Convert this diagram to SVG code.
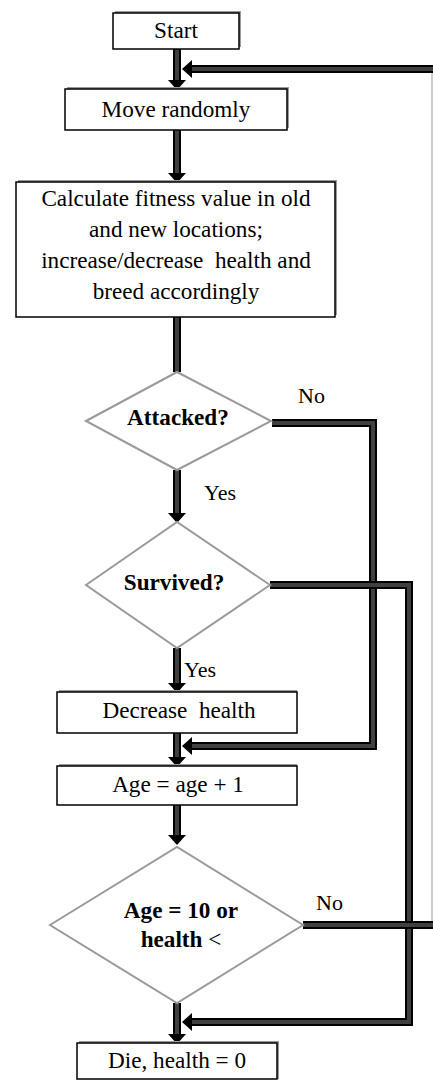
<svg xmlns="http://www.w3.org/2000/svg" width="433" height="1080" viewBox="0 0 433 1080">
<style>
.box{fill:#fff;stroke:#000;stroke-width:1.5}
.sh{fill:#9a9a9a}
.dia{fill:#fff;stroke:#9a9a9a;stroke-width:2}
.co{fill:none;stroke:#000;stroke-width:8}
.ci{fill:none;stroke:#404040;stroke-width:4}
.t{font-family:"Liberation Serif","Times New Roman",serif;font-size:23.2px;fill:#000;text-anchor:middle}
.b{font-weight:bold}
.l{font-family:"Liberation Serif","Times New Roman",serif;font-size:22px;fill:#000}
.thin{fill:none;stroke:#aaa;stroke-width:1.2}
</style>
<defs>
<marker id="ah" markerUnits="userSpaceOnUse" markerWidth="12" markerHeight="20" refX="0" refY="9" orient="auto" viewBox="0 0 12 18">
<path d="M0,0 L10,9 L0,18 z" fill="#000"/>
</marker>
</defs>
<rect width="433" height="1080" fill="#fff"/>
<g id="connectors">
<path class="thin" d="M432,69 V925"/>
<path class="co" d="M177,49 V80" marker-end="url(#ah)"/><path class="ci" d="M177,49 V80"/>
<path class="co" d="M433,69 H192" marker-end="url(#ah)"/><path class="ci" d="M433,69 H192"/>
<path class="co" d="M177,130 V173" marker-end="url(#ah)"/><path class="ci" d="M177,130 V173"/>
<path class="co" d="M177,317 V372"/><path class="ci" d="M177,317 V372"/>
<path class="co" d="M177,470 V513" marker-end="url(#ah)"/><path class="ci" d="M177,470 V513"/>
<path class="co" d="M272,423 H373 V746 H192" marker-end="url(#ah)"/><path class="ci" d="M272,423 H373 V746 H192"/>
<path class="co" d="M177,648 V683" marker-end="url(#ah)"/><path class="ci" d="M177,648 V683"/>
<path class="co" d="M270,585 H409 V1022 H192" marker-end="url(#ah)"/><path class="ci" d="M270,585 H409 V1022 H192"/>
<path class="co" d="M177,733 V757" marker-end="url(#ah)"/><path class="ci" d="M177,733 V757"/>
<path class="co" d="M177,805 V835" marker-end="url(#ah)"/><path class="ci" d="M177,805 V835"/>
<path class="co" d="M303,925 H433"/><path class="ci" d="M303,925 H433"/>
<path class="co" d="M177,1003 V1034" marker-end="url(#ah)"/><path class="ci" d="M177,1003 V1034"/>
</g>
<g id="start">
<rect class="sh" x="115" y="11" width="126" height="36"/>
<rect class="box" x="113" y="13" width="126" height="36"/>
<text class="t" x="176" y="38">Start</text>
</g>
<g id="move">
<rect class="sh" x="67" y="87" width="222" height="41"/>
<rect class="box" x="65" y="89" width="222" height="41"/>
<text class="t" x="176" y="117">Move randomly</text>
</g>
<g id="calc">
<rect class="sh" x="18" y="180" width="319" height="135"/>
<rect class="box" x="16" y="182" width="319" height="135"/>
<text class="t" x="176" y="206">Calculate fitness value in old</text>
<text class="t" x="176" y="237">and new locations;</text>
<text class="t" x="176" y="268" xml:space="preserve">increase/decrease  health and</text>
<text class="t" x="176" y="299">breed accordingly</text>
</g>
<g id="attacked">
<polygon class="dia" points="86,421 177,372 271,421 177,470"/>
<text class="t b" x="178" y="425" font-size="18">Attacked?</text>
</g>
<g id="survived">
<polygon class="dia" points="86,585 177,522 270,585 177,648"/>
<text class="t b" x="174" y="590" font-size="18">Survived?</text>
</g>
<g id="decrease">
<rect class="sh" x="59" y="690" width="238" height="41"/>
<rect class="box" x="57" y="692" width="240" height="41"/>
<text class="t" x="179" y="718" xml:space="preserve">Decrease  health</text>
</g>
<g id="age">
<rect class="sh" x="59" y="764" width="238" height="41"/>
<rect class="box" x="57" y="766" width="240" height="39"/>
<text class="t" x="178" y="792">Age = age + 1</text>
</g>
<g id="check">
<polygon class="dia" points="50,925 177,847 303,925 177,1003"/>
<text class="t b" x="181" y="918" font-size="22">Age = 10 or</text>
<text class="t" x="181" y="947" font-size="22"><tspan class="b">health</tspan> &lt;</text>
</g>
<g id="die">
<rect class="sh" x="79" y="1041" width="200" height="38"/>
<rect class="box" x="77" y="1043" width="200" height="36"/>
<text class="t" x="177" y="1068">Die, health = 0</text>
</g>
<g id="labels">
<text class="l" x="298" y="403">No</text>
<text class="l" x="204" y="500">Yes</text>
<text class="l" x="184" y="677">Yes</text>
<text class="l" x="316" y="910">No</text>
</g>
</svg>
